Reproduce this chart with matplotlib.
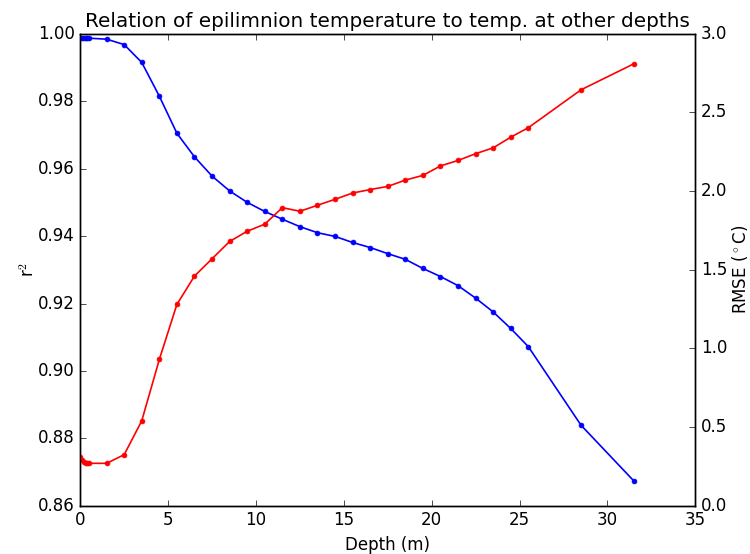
import matplotlib
matplotlib.use("Agg")
import matplotlib.pyplot as plt

plt.style.use('classic')

depth = [0.0, 0.1, 0.2, 0.3, 0.4, 0.5, 1.5, 2.5, 3.5, 4.5, 5.5, 6.5, 7.5, 8.5,
         9.5, 10.5, 11.5, 12.5, 13.5, 14.5, 15.5, 16.5, 17.5, 18.5, 19.5,
         20.5, 21.5, 22.5, 23.5, 24.5, 25.5, 28.5, 31.5]

r2 = [0.9989, 0.9989, 0.9988, 0.9988, 0.9988, 0.9987, 0.9984, 0.9968,
      0.9915, 0.9815, 0.9705, 0.9635, 0.9578, 0.9534, 0.9500, 0.9473,
      0.9450, 0.9428, 0.9410, 0.9399, 0.9381, 0.9366, 0.9348, 0.9331,
      0.9304, 0.9280, 0.9253, 0.9216, 0.9175, 0.9126, 0.9072, 0.8839, 0.8674]

rmse = [0.31, 0.29, 0.28, 0.27, 0.27, 0.27, 0.27, 0.325, 0.54, 0.93, 1.28,
        1.46, 1.57, 1.68, 1.745, 1.79, 1.895, 1.872, 1.91, 1.948, 1.988,
        2.01, 2.03, 2.07, 2.10, 2.16, 2.195, 2.238, 2.275, 2.343, 2.403,
        2.644, 2.809]

fig = plt.figure(figsize=(7.5, 5.54), dpi=100, facecolor='white')
ax = fig.add_axes([0.107, 0.087, 0.82, 0.852])
ax.plot(depth, r2, 'b.-', lw=1.2, ms=7)
ax.set_xlim(0, 35)
ax.set_ylim(0.86, 1.00)
ax.set_xlabel('Depth (m)')
ax.set_ylabel('r$^2$', labelpad=0)
ax.set_title('Relation of epilimnion temperature to temp. at other depths')

ax2 = ax.twinx()
ax2.plot(depth, rmse, 'r.-', lw=1.2, ms=7)
ax2.set_xlim(0, 35)
ax2.set_ylim(0, 3.0)
ax2.set_ylabel('RMSE ($^\\circ$C)', labelpad=2)

fig.savefig('out.png', dpi=100, facecolor='white')
